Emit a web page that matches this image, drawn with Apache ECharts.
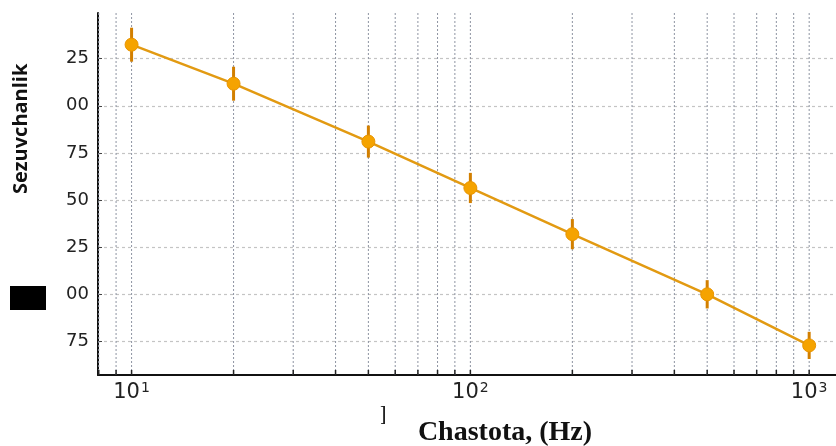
<!DOCTYPE html>
<html>
<head>
<meta charset="utf-8">
<script src="https://cdn.jsdelivr.net/npm/echarts@6/dist/echarts.min.js"></script>
<style>
  html, body { margin: 0; padding: 0; background: #fff; }
  #chart { width: 836px; height: 446px; }
</style>
</head>
<body>
<div id="chart"></div>
<script>
// chastota (Hz) va sezuvchanlik qiymatlari
const freqs = [10, 20, 50, 100, 200, 500, 1000]
const sens = [2.324, 2.117, 1.81, 1.564, 1.319, 1.0, 0.729]
const errs = [0.09, 0.09, 0.085, 0.08, 0.08, 0.075, 0.072]

// o'q belgilari
const yTickValues = [0.75, 1.0, 1.25, 1.5, 1.75, 2.0, 2.25]
const yTickLabels = ['75', '00', '25', '50', '75', '00', '25']
const xTickValues = [10, 100, 1000]
const xTickLabels = ['{b|10}{s|1}', '{b|10}{s|2}', '{b|10}{s|3}']
// log o'qdagi kichik chiziqlar
const gridX = [8, 9, 10, 20, 30, 40, 50, 60, 70, 80, 90, 100, 200, 300, 400, 500, 600, 700, 800, 900, 1000]

const chart = echarts.init(document.getElementById('chart'))

chart.setOption({
  animation: false,
  grid: { left: 98, right: 0, top: 13, bottom: 71 },
  xAxis: {
    type: 'log',
    logBase: 10,
    min: 7.96,
    max: 1200,
    axisLine: { lineStyle: { color: '#111', width: 2 } },
    axisTick: { show: false },
    splitLine: { show: false },
    axisLabel: {
      showMinLabel: false,
      showMaxLabel: false,
      margin: 6,
      formatter: function (v) {
        for (let i = 0; i < xTickValues.length; i++) {
          if (Math.abs(v - xTickValues[i]) < 1e-6 * xTickValues[i]) return xTickLabels[i]
        }
        return ''
      },
      rich: {
        b: { fontFamily: 'DejaVu Sans', fontSize: 21, color: '#222' },
        s: { fontFamily: 'DejaVu Sans', fontSize: 14, color: '#222', verticalAlign: 'top', padding: [0, 0, 10, 1] }
      }
    }
  },
  yAxis: {
    type: 'value',
    min: 0.572,
    max: 2.492,
    axisLine: { show: true, lineStyle: { color: '#111', width: 2 } },
    axisTick: {
      show: true,
      inside: true,
      length: 4,
      customValues: yTickValues,
      lineStyle: { color: '#444' }
    },
    splitLine: {
      show: true,
      lineStyle: { color: '#c4c4c4', type: [3, 3], width: 1.2 }
    },
    axisLabel: {
      customValues: yTickValues,
      fontFamily: 'DejaVu Sans',
      fontSize: 18,
      color: '#222',
      margin: 9,
      formatter: function (v) {
        for (let i = 0; i < yTickValues.length; i++) {
          if (Math.abs(v - yTickValues[i]) < 1e-6) return yTickLabels[i]
        }
        return ''
      }
    }
  },
  series: [
    {
      // vertikal nuqtali chiziqlar va pastki kichik belgilar
      type: 'custom',
      silent: true,
      z: 1,
      data: gridX.map(v => [v, 1]),
      encode: { x: 0, y: 1 },
      renderItem: function (params, api) {
        const cs = params.coordSys
        const x = api.coord([api.value(0), 1])[0]
        const bottom = cs.y + cs.height
        return {
          type: 'group',
          children: [
            {
              type: 'line',
              shape: { x1: x, y1: cs.y, x2: x, y2: bottom },
              style: { stroke: '#8e94a2', lineWidth: 1, lineDash: [2, 2] }
            },
            {
              type: 'line',
              shape: { x1: x, y1: bottom, x2: x, y2: bottom - 5 },
              style: { stroke: '#222', lineWidth: 1.5 }
            }
          ]
        }
      }
    },
    {
      // xatolik chiziqlari
      type: 'custom',
      silent: true,
      z: 3,
      data: freqs.map((f, i) => [f, sens[i] - errs[i], sens[i] + errs[i]]),
      encode: { x: 0, y: [1, 2] },
      renderItem: function (params, api) {
        const lo = api.coord([api.value(0), api.value(1)])
        const hi = api.coord([api.value(0), api.value(2)])
        return {
          type: 'line',
          shape: { x1: lo[0], y1: lo[1], x2: hi[0], y2: hi[1] },
          style: { stroke: '#d27f00', lineWidth: 3 }
        }
      }
    },
    {
      name: 'Sezuvchanlik',
      type: 'line',
      z: 4,
      data: freqs.map((f, i) => [f, sens[i]]),
      symbol: 'circle',
      symbolSize: 13,
      lineStyle: { color: '#e29a12', width: 2.5 },
      itemStyle: { color: '#f5a300', borderColor: '#e89400', borderWidth: 1 }
    }
  ],
  graphic: [
    {
      type: 'text',
      rotation: Math.PI / 2,
      x: 11,
      y: 194,
      style: {
        text: 'Sezuvchanlik',
        font: 'bold 20px "Open Sans"',
        fill: '#111'
      }
    },
    {
      type: 'rect',
      shape: { x: 10, y: 286, width: 36, height: 24 },
      style: { fill: '#000' }
    },
    {
      type: 'text',
      x: 380,
      y: 403,
      style: { text: 'F', font: '28px "Liberation Serif"', fill: '#222' }
    },
    {
      type: 'rect',
      z: 10,
      shape: { x: 385, y: 400, width: 16, height: 32 },
      style: { fill: '#fff' }
    },
    {
      type: 'text',
      x: 505,
      y: 433,
      style: {
        text: 'Chastota, (Hz)',
        font: 'bold 28px "Liberation Serif"',
        fill: '#111',
        align: 'center',
        verticalAlign: 'middle'
      }
    }
  ]
})
</script>
</body>
</html>
